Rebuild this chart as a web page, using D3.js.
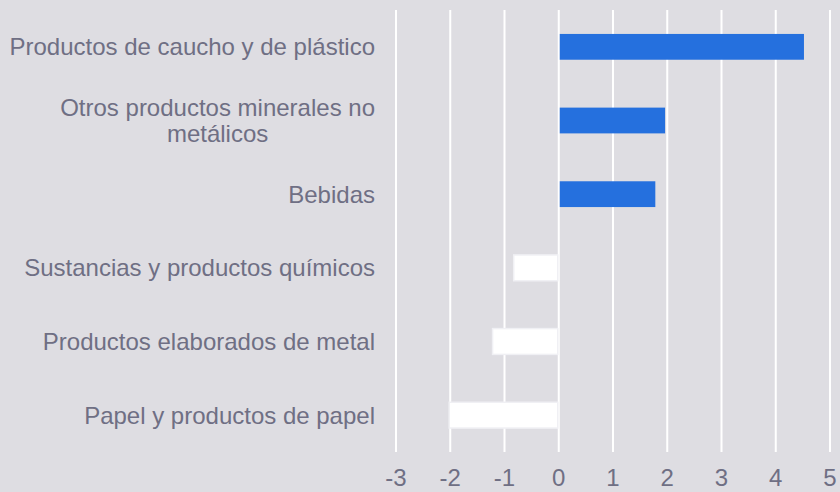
<!DOCTYPE html>
<html>
<head>
<meta charset="utf-8">
<script src="https://cdn.jsdelivr.net/npm/d3@7"></script>
<style>
  body { margin: 0; background: #dedde2; }
  svg { display: block; }
  text { font-family: "Liberation Sans", Arial, sans-serif; fill: #6f6f84; }
</style>
</head>
<body>
<div class="chart"></div>
<script>
// categories top to bottom
var categories = [
  "Productos de caucho y de plástico",
  "Otros productos minerales no metálicos",
  "Bebidas",
  "Sustancias y productos químicos",
  "Productos elaborados de metal",
  "Papel y productos de papel"
];
var values = [4.52, 1.96, 1.78, -0.83, -1.22, -2.02];
var labelLines = [
  ["Productos de caucho y de plástico"],
  ["Otros productos minerales no", "metálicos"],
  ["Bebidas"],
  ["Sustancias y productos químicos"],
  ["Productos elaborados de metal"],
  ["Papel y productos de papel"]
];
var ticks = [-3, -2, -1, 0, 1, 2, 3, 4, 5];

var width = 840, height = 492;
var svg = d3.select(".chart").append("svg")
  .attr("width", width)
  .attr("height", height);

var x = d3.scaleLinear().domain([-3, 5]).range([396, 830]);
var y = d3.scaleBand().domain(categories).range([10, 452])
  .paddingInner(0.65).paddingOuter(0.325);

//gridlines
svg.append("g").selectAll("line")
  .data(ticks)
  .enter().append("line")
  .attr("x1", function(d) { return x(d); })
  .attr("x2", function(d) { return x(d); })
  .attr("y1", 10)
  .attr("y2", 452)
  .attr("stroke", "#ffffff")
  .attr("stroke-width", 2);

//tick labels
svg.append("g").selectAll("text")
  .data(ticks)
  .enter().append("text")
  .attr("x", function(d) { return x(d); })
  .attr("y", 486)
  .attr("text-anchor", "middle")
  .style("font-size", "24px")
  .text(function(d) { return d; });

//bars
var data = categories.map(function(c, i) { return {name: c, value: values[i]}; });
svg.append("g").selectAll("rect")
  .data(data)
  .enter().append("rect")
  .attr("x", function(d) { return x(Math.min(0, d.value)) + (d.value > 0 ? 1 : 0); })
  .attr("y", function(d) { return y(d.name); })
  .attr("width", function(d) { return Math.abs(x(d.value) - x(0)) - 1; })
  .attr("height", y.bandwidth())
  .attr("fill", function(d) { return d.value > 0 ? "#2570de" : "#ffffff"; })
  .attr("stroke", function(d) { return d.value > 0 ? "none" : "#f0f0f4"; })
  .attr("stroke-width", 1.5);

//category labels, right aligned block with centered lines
var labels = svg.append("g");
categories.forEach(function(c, i) {
  var lines = labelLines[i];
  var g = labels.append("g");
  var cy = y(c) + y.bandwidth() / 2;
  var lh = 26;
  var texts = lines.map(function(l, j) {
    return g.append("text")
      .attr("y", cy + (j - (lines.length - 1) / 2) * lh)
      .attr("dy", "0.35em")
      .attr("text-anchor", "middle")
      .style("font-size", "24px")
      .text(l);
  });
  var maxW = d3.max(texts, function(t) { return t.node().getComputedTextLength(); });
  texts.forEach(function(t) { t.attr("x", 375 - maxW / 2); });
});
</script>
</body>
</html>
